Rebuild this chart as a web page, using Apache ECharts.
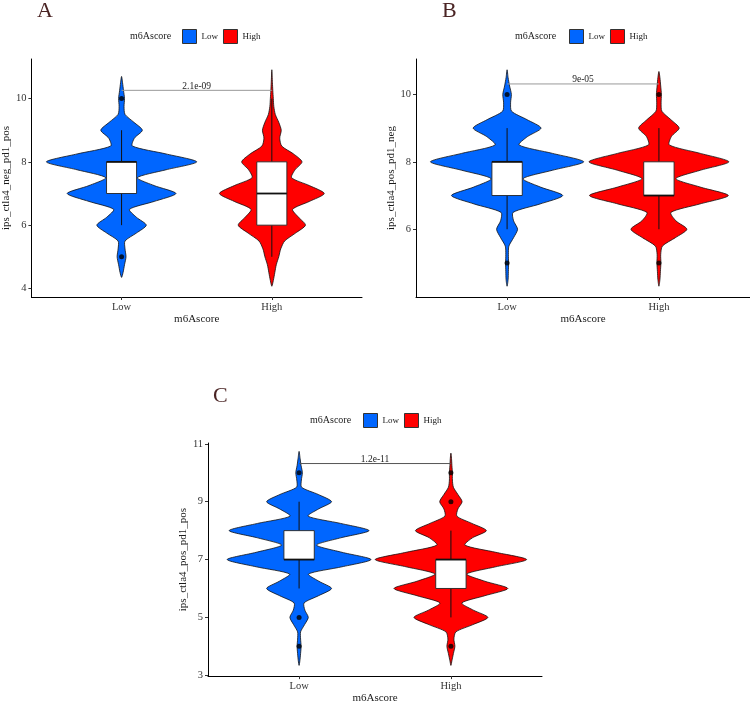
<!DOCTYPE html>
<html>
<head>
<meta charset="utf-8">
<script src="https://cdn.jsdelivr.net/npm/echarts@6/dist/echarts.min.js"></script>
<style>html,body{margin:0;padding:0;background:#fff}#chart{width:750px;height:705px}</style>
</head>
<body>
<div id="chart"></div>
<script>
// ---------- DATA ----------
const categories = ['Low', 'High'];
const legendTitle = 'm6Ascore';
const panelLetters = ['A', 'B', 'C'];
const yTitles = ['ips_ctla4_neg_pd1_pos', 'ips_ctla4_pos_pd1_neg', 'ips_ctla4_pos_pd1_pos'];
const pValues = ['2.1e-09', '9e-05', '1.2e-11'];
const bracketY = [10.26, 10.31, 10.32];
const yTicksA = [4, 6, 8, 10];
const yTicksB = [6, 8, 10];
const yTicksC = [3, 5, 7, 9, 11];
const yRangeA = [3.73, 11.25];
const yRangeB = [3.99, 11.05];
const yRangeC = [2.97, 11.03];

// violin outlines: score levels and half-widths (density, 152 = one category spacing)
const aLowY  = [4.35,4.5,4.75,5,5.25,5.5,5.75,6,6.25,6.5,6.75,7,7.25,7.5,7.75,8,8.25,8.5,8.75,9,9.25,9.5,9.75,10,10.25,10.5,10.7];
const aLowW  = [0,1.5,3,4.5,3.5,3.5,15,25,15,8,33,55,33,16,45,76,45,11,13,21,12.5,3.5,2.5,3,2,1,0];
const aHighY = [4.07,4.25,4.5,4.75,5,5.25,5.5,5.75,6,6.25,6.5,6.75,7,7.25,7.5,7.75,8,8.25,8.5,8.75,9,9.25,9.5,9.75,10,10.25,10.5,10.91];
const aHighW = [0,1.5,3,4.5,7,9,13,24,34,27,21,38,53,38,20,23.5,30.5,22,10,8,9.5,7,3.5,2,1.5,1,0.6,0];
const bLowY  = [4.31,4.5,4.75,5,5.25,5.5,5.75,6,6.25,6.5,6.75,7,7.25,7.5,7.75,8,8.25,8.5,8.75,9,9.25,9.5,9.75,10,10.25,10.5,10.73];
const bLowW  = [0,1,1.3,1.5,1.3,1.8,6.5,10.5,6.5,6,33,55.7,33.5,16,45.5,76.7,45.5,12,20.5,34,20,4.5,3.5,4.3,2.5,1,0];
const bHighY = [4.31,4.5,4.75,5,5.25,5.5,5.75,6,6.25,6.5,6.75,7,7.25,7.5,7.75,8,8.25,8.5,8.75,9,9.25,9.5,9.75,10,10.25,10.5,10.68];
const bHighW = [0,1,1.5,2,1.8,3.5,16.5,28,17,12,41,69.5,41.5,17,41.5,70,41.5,10.5,12.5,20.3,12,3,2.2,2.5,1.8,1,0];
const cLowY  = [3.34,3.5,3.75,4,4.25,4.5,4.75,5,5.25,5.5,5.75,6,6.25,6.5,6.75,7,7.25,7.5,7.75,8,8.25,8.5,8.75,9,9.25,9.5,9.75,10,10.25,10.5,10.74];
const cLowW  = [0,0.8,1.5,2,1.5,1.5,5.5,9.2,5.8,5,19.5,32.5,19.8,9.5,43,72,43,17.5,41.5,70,41.5,9,19.5,32.5,19.2,2.5,2.3,3.3,2,1,0];
const cHighY = [3.34,3.5,3.75,4,4.25,4.5,4.75,5,5.25,5.5,5.75,6,6.25,6.5,6.75,7,7.25,7.5,7.75,8,8.25,8.5,8.75,9,9.25,9.5,9.75,10,10.25,10.5,10.68];
const cHighW = [0,1,2.5,4,3,5,22,37,22.5,11,34,57,34,16,45,75.8,45,14,21.5,35.5,21,6,7,11.2,7,2.5,1.5,1.5,1,0.6,0];

// boxplot stats [whiskerLow, Q1, median, Q3, whiskerHigh] for Low, High
const boxA = [[6,7,8,8,9],[5,6,7,8,10]];
const boxB = [[6,7,8,8,9],[6,7,7,8,9]];
const boxC = [[6,7,7,8,9],[5,6,7,7,8]];
// outliers [group (1=Low,2=High), value]
const outA = [[1,10],[1,5]];
const outB = [[1,10],[1,5],[2,10],[2,5]];
const outC = [[1,10],[1,5],[1,4],[2,10],[2,9],[2,4]];

// ---------- STYLE / LAYOUT ----------
const SERIF = 'Liberation Serif';
const COLORS = ['#0066ff', '#ff0000'];
const WIDTH_UNIT = 152;
const BOX_HALF = 0.1;
const grids = [
  {left: 28, top: 59, width: 334, height: 238},
  {left: 416, top: 59, width: 334, height: 238},
  {left: 208, top: 443, width: 334, height: 237}
];
const letterPos = [[37, 0], [442, 0], [213, 385]];
const legendPos = [[182, 29], [569, 29], [363, 413]];
const legendTitlePos = [[130, 31], [515, 31], [310, 415]];
const bracketColors = ['#999999', '#999999', '#555555'];

const yTicks = [yTicksA, yTicksB, yTicksC];
const yRanges = [yRangeA, yRangeB, yRangeC];
const violins = [
  [[aLowY, aLowW], [aHighY, aHighW]],
  [[bLowY, bLowW], [bHighY, bHighW]],
  [[cLowY, cLowW], [cHighY, cHighW]]
];
const boxes = [boxA, boxB, boxC];
const outliers = [outA, outB, outC];

function violinSeries(p, g) {
  const ys = violins[p][g][0], ws = violins[p][g][1];
  return {
    type: 'custom', name: categories[g], xAxisIndex: p, yAxisIndex: p, z: 2,
    data: [[g + 1, ys[0], ys[ys.length - 1]]],
    encode: {x: 0, y: [1, 2]},
    renderItem: function (params, api) {
      const x = api.value(0);
      const pts = [];
      for (let i = 0; i < ys.length; i++) pts.push(api.coord([x + ws[i] / WIDTH_UNIT, ys[i]]));
      for (let i = ys.length - 2; i >= 1; i--) pts.push(api.coord([x - ws[i] / WIDTH_UNIT, ys[i]]));
      return {type: 'polygon', shape: {points: pts, smooth: 0.25},
        style: {fill: COLORS[g], stroke: '#111', lineWidth: 0.8}};
    }
  };
}

function boxSeries(p) {
  return {
    type: 'custom', xAxisIndex: p, yAxisIndex: p, z: 3,
    data: boxes[p].map((b, i) => [i + 1].concat(b)),
    encode: {x: 0, y: [1, 5]},
    renderItem: function (params, api) {
      const x = api.value(0);
      const lo = api.value(1), q1 = api.value(2), md = api.value(3), q3 = api.value(4), hi = api.value(5);
      const wTop = api.coord([x, hi]), wQ3 = api.coord([x, q3]), wQ1 = api.coord([x, q1]), wBot = api.coord([x, lo]);
      const tl = api.coord([x - BOX_HALF, q3]), br = api.coord([x + BOX_HALF, q1]);
      const ml = api.coord([x - BOX_HALF, md]), mr = api.coord([x + BOX_HALF, md]);
      return {type: 'group', children: [
        {type: 'line', shape: {x1: wTop[0], y1: wTop[1], x2: wQ3[0], y2: wQ3[1]}, style: {stroke: '#111', lineWidth: 1}},
        {type: 'line', shape: {x1: wQ1[0], y1: wQ1[1], x2: wBot[0], y2: wBot[1]}, style: {stroke: '#111', lineWidth: 1}},
        {type: 'rect', shape: {x: tl[0], y: tl[1], width: br[0] - tl[0], height: br[1] - tl[1]},
          style: {fill: '#fff', stroke: '#222', lineWidth: 0.9}},
        {type: 'line', shape: {x1: ml[0], y1: ml[1], x2: mr[0], y2: mr[1]}, style: {stroke: '#111', lineWidth: 1.8}}
      ]};
    }
  };
}

function outlierSeries(p) {
  return {
    type: 'scatter', xAxisIndex: p, yAxisIndex: p, z: 4,
    data: outliers[p], symbol: 'circle', symbolSize: 5,
    itemStyle: {color: '#000'}, silent: true
  };
}

function bracketSeries(p) {
  return {
    type: 'custom', xAxisIndex: p, yAxisIndex: p, z: 5,
    data: [[1, 2, bracketY[p]]],
    encode: {x: [0, 1], y: 2},
    renderItem: function (params, api) {
      const a = api.coord([api.value(0), api.value(2)]);
      const b = api.coord([api.value(1), api.value(2)]);
      return {type: 'group', children: [
        {type: 'line', shape: {x1: a[0], y1: a[1], x2: b[0], y2: b[1]}, style: {stroke: bracketColors[p], lineWidth: 1}},
        {type: 'text', style: {text: pValues[p], x: (a[0] + b[0]) / 2, y: a[1] + 1,
          align: 'center', verticalAlign: 'bottom', fontFamily: SERIF, fontSize: 9.5, fill: '#222'}}
      ]};
    }
  };
}

const series = [];
for (let p = 0; p < 3; p++) {
  series.push(violinSeries(p, 0), violinSeries(p, 1), boxSeries(p), outlierSeries(p), bracketSeries(p));
}

const option = {
  animation: false,
  backgroundColor: '#fff',
  title: panelLetters.map((t, i) => ({
    text: t, left: letterPos[i][0], top: letterPos[i][1], padding: 0,
    textStyle: {fontFamily: SERIF, fontSize: 22, fontWeight: 'normal', color: '#4a2424'}
  })).concat(legendTitlePos.map(pos => ({
    text: legendTitle, left: pos[0], top: pos[1], padding: 0,
    textStyle: {fontFamily: SERIF, fontSize: 10, fontWeight: 'normal', color: '#1a1a1a'}
  }))),
  legend: legendPos.map(pos => ({
    left: pos[0], top: pos[1], padding: 0, orient: 'horizontal',
    icon: 'rect', itemWidth: 14, itemHeight: 14, itemGap: 5, selectedMode: false,
    textStyle: {fontFamily: SERIF, fontSize: 9, color: '#1a1a1a'},
    data: categories.map((c, g) => ({name: c, itemStyle: {color: COLORS[g], borderColor: '#333', borderWidth: 1}}))
  })),
  grid: grids,
  xAxis: grids.map((g, i) => ({
    type: 'value', gridIndex: i, min: 0.4, max: 2.6,
    name: 'm6Ascore', nameLocation: 'middle', nameGap: 15,
    nameTextStyle: {fontFamily: SERIF, fontSize: 11, color: '#1a1a1a'},
    axisLine: {show: true, onZero: false, lineStyle: {color: '#000', width: 1}},
    axisTick: {show: true, length: 3, customValues: [1, 2], lineStyle: {color: '#333'}},
    axisLabel: {customValues: [1, 2], formatter: v => categories[Math.round(v) - 1],
      fontFamily: SERIF, fontSize: 10.5, color: '#333', margin: 5},
    splitLine: {show: false}
  })),
  yAxis: grids.map((g, i) => ({
    type: 'value', gridIndex: i, min: yRanges[i][0], max: yRanges[i][1],
    name: yTitles[i], nameLocation: 'middle', nameGap: 18,
    nameTextStyle: {fontFamily: SERIF, fontSize: 11, color: '#1a1a1a'},
    axisLine: {show: true, onZero: false, lineStyle: {color: '#000', width: 1}},
    axisTick: {show: true, length: 3, customValues: yTicks[i], lineStyle: {color: '#333'}},
    axisLabel: {customValues: yTicks[i], fontFamily: SERIF, fontSize: 10.5, color: '#333', margin: 5},
    splitLine: {show: false}
  })),
  series: series
};

const chart = echarts.init(document.getElementById('chart'), null, {renderer: 'canvas'});
chart.setOption(option);
</script>
</body>
</html>
